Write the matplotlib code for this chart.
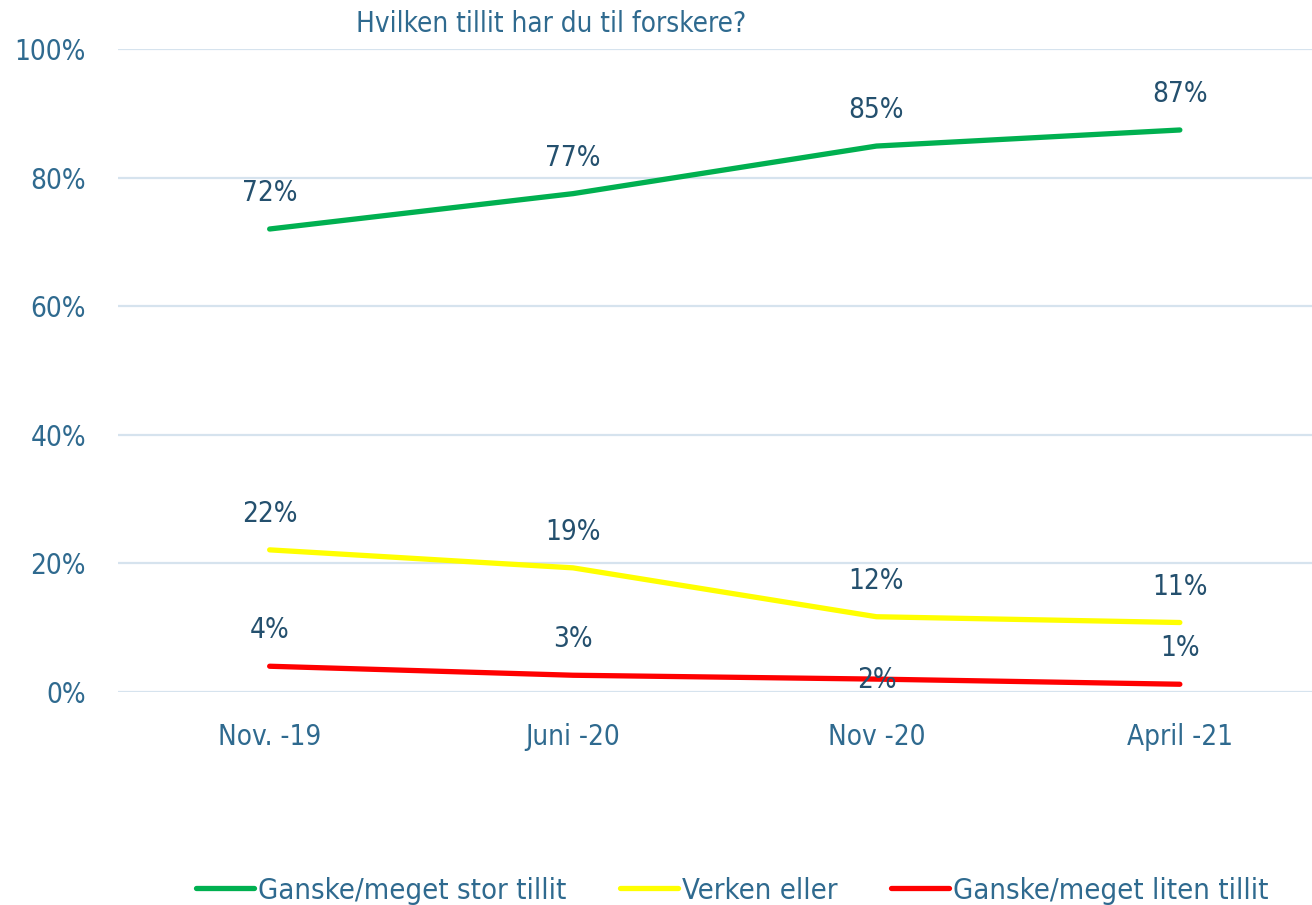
import matplotlib.pyplot as plt
from matplotlib.ticker import PercentFormatter

# Data
kategorier = ["Nov. -19", "Juni -20", "Nov -20", "April -21"]
stor_tillit = [72.0, 77.5, 84.9, 87.4]
verken = [22.1, 19.3, 11.7, 10.8]
liten_tillit = [4.0, 2.6, 2.0, 1.2]
lbl_stor = ["72%", "77%", "85%", "87%"]
lbl_verken = ["22%", "19%", "12%", "11%"]
lbl_liten = ["4%", "3%", "2%", "1%"]

serier = [
    ("Ganske/meget stor tillit", stor_tillit, lbl_stor, "#00B050"),
    ("Verken eller", verken, lbl_verken, "#FFFF00"),
    ("Ganske/meget liten tillit", liten_tillit, lbl_liten, "#FF0000"),
]

plt.rcParams['font.family'] = ['DejaVu Sans']
plt.rcParams['font.stretch'] = 'condensed'
tekst = "#2F6A8F"
etikett = "#24506E"
fs = 20

fig = plt.figure(figsize=(13.12, 9.05), dpi=100)
ax = fig.add_axes([0.0899, 0.2354, 0.925, 0.7105])

x = list(range(len(kategorier)))
for navn, verdier, etiketter, farge in serier:
    ax.plot(x, verdier, color=farge, lw=3.8, label=navn, solid_capstyle='round')
    for i, (v, t) in enumerate(zip(verdier, etiketter)):
        # 2% i Nov -20 sitter rett på linja i originalen
        dy = -1 if (navn.startswith("Ganske/meget liten") and i == 2) else 36
        ax.annotate(t, (i, v), xytext=(0, dy), textcoords='offset pixels',
                    ha='center', va='center', fontsize=fs, color=etikett)

ax.set_xlim(-0.5, 3.5)
ax.set_ylim(0, 100)
ax.set_yticks(range(0, 101, 20))
ax.yaxis.set_major_formatter(PercentFormatter(decimals=0))
ax.set_xticks(x)
ax.set_xticklabels(kategorier)
ax.tick_params(axis='both', length=0, labelsize=fs, labelcolor=tekst)
ax.tick_params(axis='y', pad=23)
ax.tick_params(axis='x', pad=22)
ax.grid(axis='y', color="#D6E3EE", lw=1.6)
ax.set_axisbelow(True)
for s in ax.spines.values():
    s.set_visible(False)

fig.text(0.42, 0.973, "Hvilken tillit har du til forskere?", ha='center', va='center',
         fontsize=fs, color=tekst)

fig.legend(loc='center', bbox_to_anchor=(0.558, 0.016), ncol=3, frameon=False,
           fontsize=21, labelcolor=tekst, handlelength=2.0, handletextpad=0.12,
           columnspacing=1.85)

plt.savefig("out.png", dpi=100)
